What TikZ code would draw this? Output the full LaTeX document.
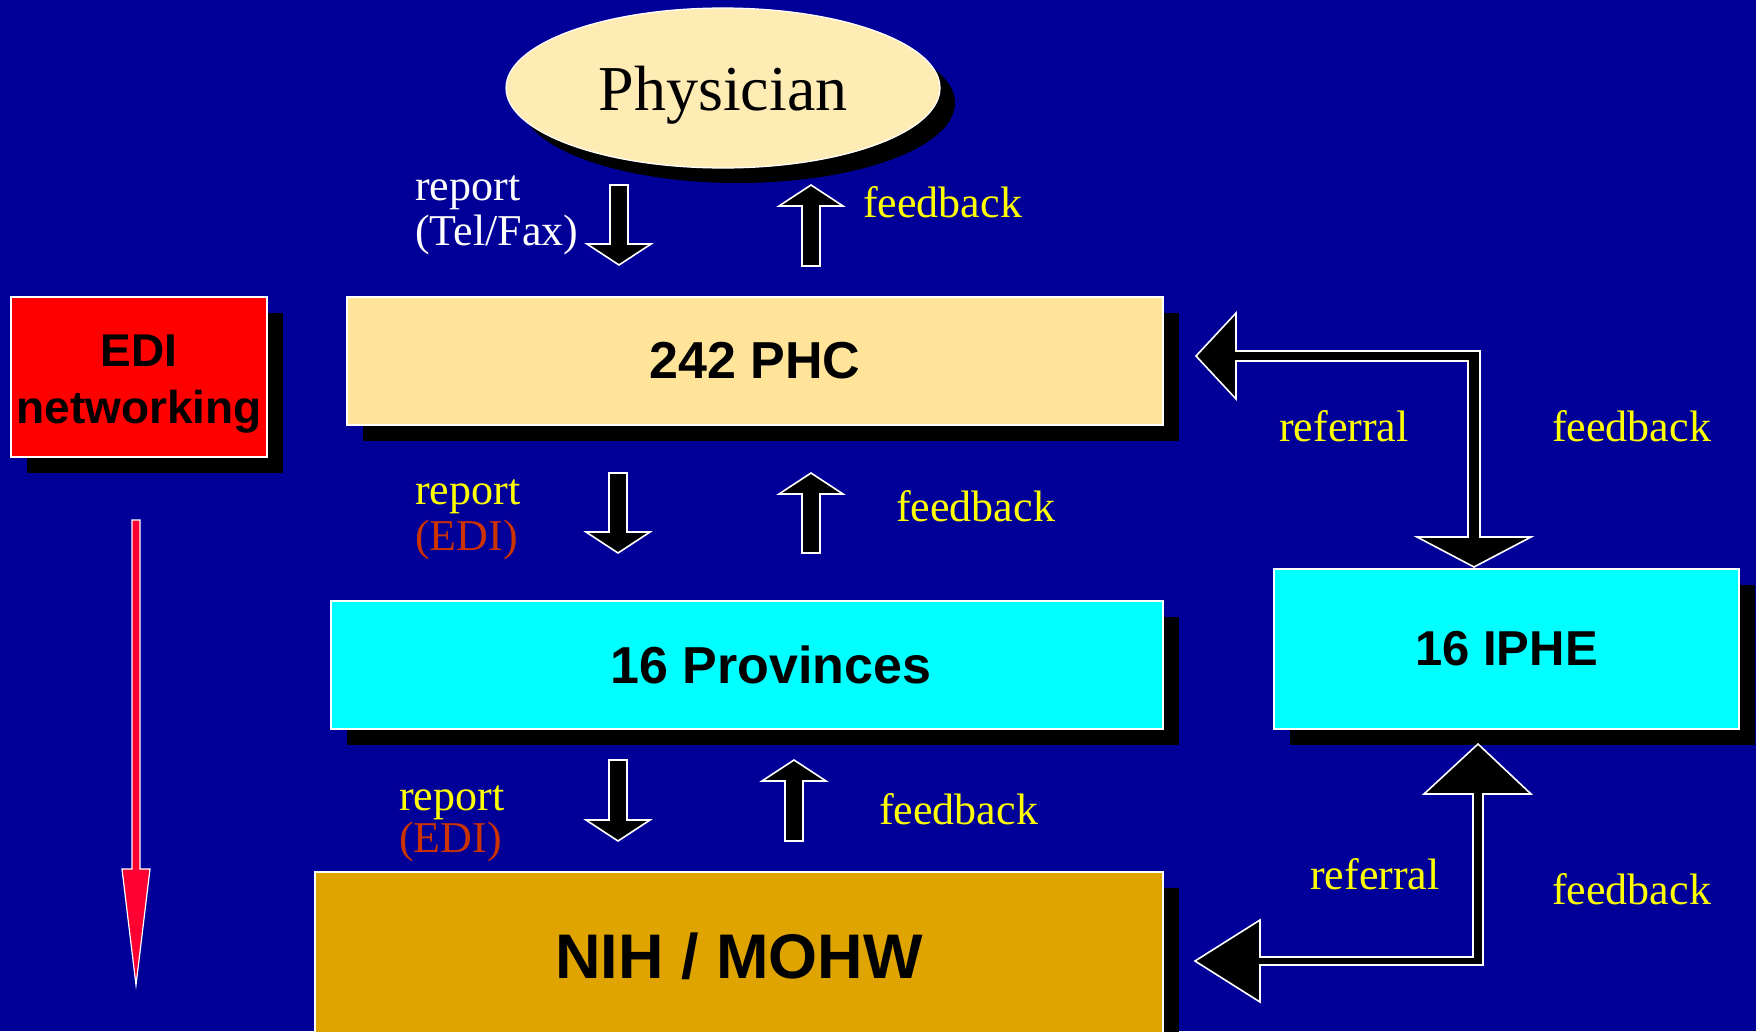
\documentclass[tikz,border=0pt]{standalone}
\usepackage{fontspec}
\setmainfont{Liberation Serif}
\newfontfamily\boxfont{Liberation Sans}
\usetikzlibrary{shapes.geometric,shadows}
\definecolor{bgblue}{HTML}{000099}
\definecolor{phcyellow}{HTML}{FFE499}
\definecolor{ellyellow}{HTML}{FFECB4}
\definecolor{boxcyan}{HTML}{00FFFF}
\definecolor{nihgold}{HTML}{E0A400}
\definecolor{edibox}{HTML}{FF0000}
\definecolor{arrowred}{HTML}{FF0033}
\definecolor{labelyellow}{HTML}{FFFF00}
\definecolor{edired}{HTML}{CC3300}
\begin{document}
\begin{tikzpicture}
 [x=1pt,y=-1pt,
  box/.style={draw=white,line width=2pt,inner sep=0pt,
    font={\boxfont\bfseries\fontsize{52}{60}\selectfont},
    drop shadow={shadow xshift=16pt,shadow yshift=-16pt,opacity=1,fill=black}},
  lbl/.style={inner sep=0pt,anchor=base west,font=\fontsize{44}{50}\selectfont,text=labelyellow},
  blockarrow/.style={draw=white,fill=black,line width=1.6pt,line join=miter}]
  \useasboundingbox (0,0) rectangle (1756,1031);
  \clip (0,0) rectangle (1756,1031);
  \fill[bgblue] (0,0) rectangle (1756,1031);

  \node (phys)[ellipse,draw=white,line width=1.2pt,fill=ellyellow,inner sep=0pt,
    minimum width=434pt,minimum height=160pt,text depth=0pt,font=\fontsize{64}{70}\selectfont,
    drop shadow={shadow xshift=15pt,shadow yshift=-15pt,opacity=1,fill=black}] at (723,88) {Physician};
  \node (phc)[box,fill=phcyellow,minimum width=816pt,minimum height=128pt] at (755,361) {242 PHC};
  \node (prov)[box,fill=boxcyan,minimum width=832pt,minimum height=128pt] at (747,665) {\hspace*{48pt}16 Provinces};
  \node (iphe)[box,fill=boxcyan,minimum width=465pt,minimum height=160pt,
    font={\boxfont\bfseries\fontsize{49}{60}\selectfont}] at (1506.5,649) {16 IPHE};
  \node (nih)[box,fill=nihgold,minimum width=848pt,minimum height=168pt,
    font={\boxfont\bfseries\fontsize{63}{70}\selectfont}] at (739,956) {NIH / MOHW};
  \node (edi)[box,fill=edibox,minimum width=256pt,minimum height=160pt,align=center,
    font={\boxfont\bfseries\fontsize{46}{57}\selectfont}] at (139,377) {\rule{0pt}{45pt}EDI\\networking};

  \node (rep1)[lbl,text=white] at (415,200) {report};
  \node (tel)[lbl,text=white] at (415,245) {(Tel/Fax)};
  \node (rep2)[lbl] at (415,504) {report};
  \node (edi2)[lbl,text=edired] at (415,550) {(EDI)};
  \node (rep3)[lbl] at (399,810) {report};
  \node (edi3)[lbl,text=edired] at (399,852) {(EDI)};
  \node (ref1)[lbl] at (1279,441) {referral};
  \node (ref2)[lbl] at (1310,889) {referral};
  \foreach \name/\x/\y in {fb1/863/217,fb2/896/521,fb3/879/824,fb4/1552/441,fb5/1552/904}
    \node (\name)[lbl] at (\x,\y) {feedback};

  % report / feedback block arrows
  \foreach \x/\ya/\yb in {619/185/265,811/266/185,618/473/553,811/553/473,618/760/841,794/841/760}{
    \pgfmathsetmacro{\yh}{\yb-21*sign(\yb-\ya)}
    \draw[blockarrow] (\x-9,\ya) -- (\x+9,\ya) -- (\x+9,\yh) -- (\x+32,\yh) -- (\x,\yb)
      -- (\x-32,\yh) -- (\x-9,\yh) -- cycle;
  }

  % referral arrows
  \draw[blockarrow] (1196,356) -- (1236,313) -- (1236,351) -- (1480,351) -- (1480,537)
    -- (1531,537) -- (1474,567) -- (1417,537) -- (1468,537) -- (1468,361) -- (1236,361)
    -- (1236,399) -- cycle;
  \draw[blockarrow] (1195,961) -- (1260,920) -- (1260,957) -- (1473,957) -- (1473,794)
    -- (1424,794) -- (1478,744) -- (1531,794) -- (1483,794) -- (1483,965) -- (1260,965)
    -- (1260,1002) -- cycle;

  % EDI flow
  \draw[draw=white,fill=arrowred,line width=1.2pt] (132,520) -- (140,520) -- (140,869)
    -- (150,869) -- (136,985) -- (122,869) -- (132,869) -- cycle;
\end{tikzpicture}
\end{document}
